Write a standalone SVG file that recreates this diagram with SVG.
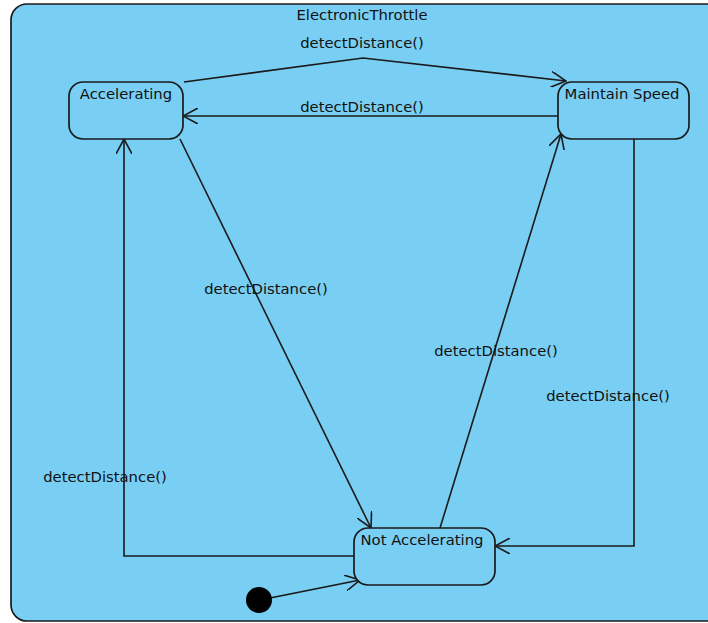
<svg xmlns="http://www.w3.org/2000/svg" width="708" height="623" viewBox="0 0 708 623">
  <style>
    text { font-family: "DejaVu Sans", "Noto Sans", sans-serif; font-size: 14.8px; fill: #111; }
    .state { fill: #79CEF4; stroke: #1a1a1a; stroke-width: 1.7; }
    .edge { fill: none; stroke: #1a1a1a; stroke-width: 1.6; }
  </style>
  <defs>
    <marker id="open" viewBox="0 0 16 16" refX="15" refY="8" markerWidth="16" markerHeight="16" markerUnits="userSpaceOnUse" orient="auto">
      <path d="M0,0 L15,8 L0,16" fill="none" stroke="#1a1a1a" stroke-width="1.6"/>
    </marker>
  </defs>

  <!-- composite state frame -->
  <g id="ElectronicThrottle">
    <rect x="11" y="4" width="720" height="617" rx="16" fill="#79CEF4" stroke="#1a1a1a" stroke-width="1.7"/>
    <text x="362" y="20" text-anchor="middle">ElectronicThrottle</text>
  </g>

  <!-- transitions -->
  <g id="connectors">
    <polyline class="edge" points="184,82 363,58 566,81" marker-end="url(#open)"/>
    <line class="edge" x1="558" y1="116" x2="183" y2="116" marker-end="url(#open)"/>
    <line class="edge" x1="180" y1="139" x2="371" y2="528" marker-end="url(#open)"/>
    <line class="edge" x1="440" y1="528" x2="561" y2="134" marker-end="url(#open)"/>
    <polyline class="edge" points="634,139 634,546 495,546" marker-end="url(#open)"/>
    <polyline class="edge" points="354,556 124,556 124,139" marker-end="url(#open)"/>
    <line class="edge" x1="270" y1="598" x2="360" y2="580" marker-end="url(#open)"/>
    <text x="362" y="48" text-anchor="middle">detectDistance()</text>
    <text x="362" y="112" text-anchor="middle">detectDistance()</text>
    <text x="266" y="294" text-anchor="middle">detectDistance()</text>
    <text x="496" y="356" text-anchor="middle">detectDistance()</text>
    <text x="608" y="401" text-anchor="middle">detectDistance()</text>
    <text x="105" y="482" text-anchor="middle">detectDistance()</text>
  </g>

  <g id="Accelerating">
    <rect class="state" x="69" y="82" width="114" height="57" rx="14"/>
    <text x="126" y="99" text-anchor="middle">Accelerating</text>
  </g>

  <g id="MaintainSpeed">
    <rect class="state" x="558" y="82" width="131" height="57" rx="14"/>
    <text x="622" y="99" text-anchor="middle">Maintain Speed</text>
  </g>

  <g id="NotAccelerating">
    <rect class="state" x="354" y="528" width="141" height="57" rx="14"/>
    <text x="422" y="545" text-anchor="middle">Not Accelerating</text>
  </g>

  <g id="initial">
    <circle cx="259" cy="600" r="13" fill="#000"/>
  </g>
</svg>
